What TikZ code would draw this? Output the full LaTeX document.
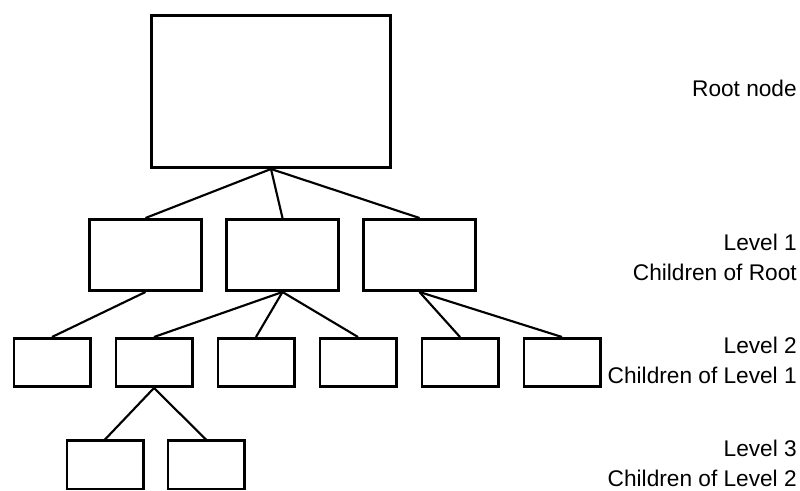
\documentclass[tikz,border=0pt]{standalone}
\usepackage{fontspec}
\setmainfont{Liberation Sans}
\usetikzlibrary{positioning}
\tikzset{
  box/.style={draw, line width=2pt, inner sep=0pt, fill=white},
  rootbox/.style={box, minimum width=179.5pt, minimum height=114.25pt},
  midbox/.style={box, minimum width=84.25pt, minimum height=53.5pt},
  leafbox/.style={box, minimum width=57.25pt, minimum height=36.25pt},
  edge/.style={line width=1.6pt},
  note/.style={anchor=east, align=right, inner sep=0pt,
               font=\fontsize{17pt}{22.5pt}\selectfont}
}

\begin{document}
\begin{tikzpicture}[x=0.75pt, y=-0.75pt, node distance=16.5pt]
  \useasboundingbox (0,0) rectangle (800,491);

  % the tree
  \node[rootbox] (root) at (271,91.5) {};
  \node[midbox] (ca) at (145.5,255) {};
  \node[midbox, right=of ca] (cb) {};
  \node[midbox, right=of cb] (cc) {};
  \node[leafbox] (ga) at (52,362.5) {};
  \node[leafbox, right=17.25pt of ga] (gb) {};
  \node[leafbox, right=17.25pt of gb] (gc) {};
  \node[leafbox, right=17.25pt of gc] (gd) {};
  \node[leafbox, right=17.25pt of gd] (ge) {};
  \node[leafbox, right=17.25pt of ge] (gf) {};
  \node[leafbox] (ha) at (105,465) {};
  \node[leafbox, right=of ha] (hb) {};

  \draw[edge] (root.south) -- (ca.north);
  \draw[edge] (root.south) -- (cb.north);
  \draw[edge] (root.south) -- (cc.north);
  \draw[edge] (ca.south) -- (ga.north);
  \draw[edge] (cb.south) -- (gb.north);
  \draw[edge] (cb.south) -- (gc.north);
  \draw[edge] (cb.south) -- (gd.north);
  \draw[edge] (cc.south) -- (ge.north);
  \draw[edge] (cc.south) -- (gf.north);
  \draw[edge] (gb.south) -- (ha.north);
  \draw[edge] (gb.south) -- (hb.north);

  % level captions
  \node[note] (lroot) at (797,88) {Root node};
  \node[note] (lone) at (797,257) {Level 1\\Children of Root};
  \node[note] (ltwo) at (797,360) {Level 2\\Children of Level 1};
  \node[note] (lthree) at (797,463.5) {Level 3\\Children of Level 2};
\end{tikzpicture}
\end{document}
